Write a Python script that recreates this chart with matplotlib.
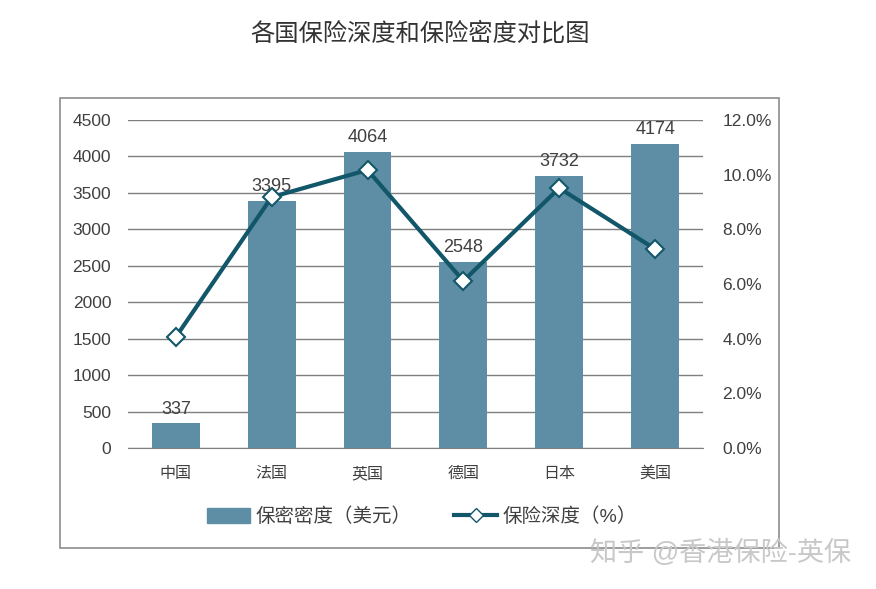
import numpy as np
import matplotlib.pyplot as plt
from matplotlib.patches import Rectangle
from matplotlib.ticker import FuncFormatter

plt.rcParams['font.family'] = ['Liberation Sans', 'Noto Sans CJK SC', 'DejaVu Sans']

# 各国保险密度和深度
countries = ['中国', '法国', '英国', '德国', '日本', '美国']
density = [337, 3395, 4064, 2548, 3732, 4174]        # 美元
depth = [4.06, 9.18, 10.17, 6.11, 9.51, 7.28]        # %

bar_color = '#5e8ea6'
line_color = '#12566a'
text_color = '#404040'

fig = plt.figure(figsize=(8.76, 5.89), dpi=100)
ax = fig.add_axes([0.146, 0.2394, 0.6565, 0.5569])
ax2 = ax.twinx()

x = np.arange(len(countries))
ax.bar(x, density, width=0.5, color=bar_color, zorder=2)
for xi, v in zip(x, density):
    ax.text(xi, v + 80, str(v), ha='center', va='bottom', fontsize=13, color=text_color)

ax.set_ylim(0, 4500)
ax.set_yticks(np.arange(0, 4501, 500))
ax.set_xlim(-0.5, len(countries) - 0.5)
ax.set_xticks(x)
ax.set_xticklabels(countries, fontsize=11.5, color=text_color)
ax.tick_params(axis='y', labelsize=12.5, colors=text_color, length=0, pad=12)
ax.tick_params(axis='x', length=0, pad=13)
ax.grid(axis='y', color='#7f7f7f', linewidth=1, zorder=0)
ax.set_axisbelow(True)
for s in ['top', 'right', 'left']:
    ax.spines[s].set_visible(False)
ax.spines['bottom'].set_color('#7f7f7f')

ax2.plot(x, depth, color=line_color, linewidth=3, marker='D', markersize=9.5,
         markerfacecolor='white', markeredgecolor=line_color, markeredgewidth=1.5, zorder=3)
ax2.set_ylim(0, 12)
ax2.set_yticks(np.arange(0, 12.1, 2))
ax2.yaxis.set_major_formatter(FuncFormatter(lambda v, p: f'{v:.1f}%'))
ax2.tick_params(axis='y', labelsize=12.5, colors=text_color, length=0, pad=14)
for s in ['top', 'right', 'left', 'bottom']:
    ax2.spines[s].set_visible(False)

# legend
h1 = plt.Rectangle((0, 0), 1, 1, color=bar_color)
h2, = plt.plot([], [], color=line_color, linewidth=3, marker='D', markersize=7,
               markerfacecolor='white', markeredgecolor=line_color)
fig.legend([h1, h2], ['保密密度（美元）', '保险深度（%）'], loc='center',
           bbox_to_anchor=(0.482, 0.123), ncol=2, frameon=False, fontsize=14,
           handlelength=2.2, handleheight=0.8, columnspacing=2.2, handletextpad=0.3,
           labelcolor=text_color)

# outer frame
fig.patches.append(Rectangle((0.0685, 0.0696), 0.8208, 0.764, transform=fig.transFigure,
                             fill=False, edgecolor='#8c8c8c', linewidth=1.2))

fig.text(0.48, 0.942, '各国保险深度和保险密度对比图', ha='center', va='center',
         fontsize=17.5, color='#333333', fontweight='light')
fig.text(0.822, 0.061, '知乎 @香港保险-英保', ha='center', va='center',
         fontsize=19.5, color='#c8c8c8')

fig.savefig('out.png', dpi=100, facecolor='white')
